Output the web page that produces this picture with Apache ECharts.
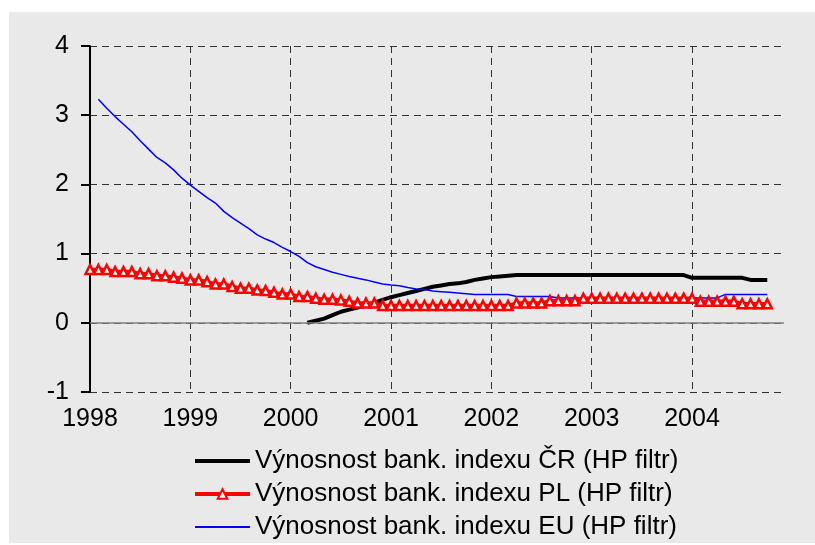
<!DOCTYPE html>
<html>
<head>
<meta charset="utf-8">
<script src="https://cdn.jsdelivr.net/npm/echarts@6/dist/echarts.min.js"></script>
<style>
html,body{margin:0;padding:0;background:#fff;}
#c{width:815px;height:545px;}
</style>
</head>
<body>
<div id="c"></div>
<script>
// Tick labels (years) and monthly categories
const years = ['1998','1999','2000','2001','2002','2003','2004'];
const months = ['01','02','03','04','05','06','07','08','09','10','11','12'];
const categories = [];
years.forEach(y => months.forEach(m => categories.push(y + '-' + m)));

const seriesNames = [
  'Výnosnost bank. indexu ČR (HP filtr)',
  'Výnosnost bank. indexu PL (HP filtr)',
  'Výnosnost bank. indexu EU (HP filtr)'
];

// Výnosnost bank. indexu ČR (HP filtr) — index 0 = 1998-01
const crValues = [
  null,null,null,null,null,null,null,null,null,null,null,null,
  null,null,null,null,null,null,null,null,null,null,null,null,
  null,null,0.00,0.03,0.06,0.11,0.16,0.19,0.22,0.25,0.29,0.33,
  0.37,0.40,0.43,0.46,0.49,0.52,0.54,0.56,0.57,0.59,0.62,0.64,
  0.66,0.67,0.68,0.69,0.69,0.69,0.69,0.69,0.69,0.69,0.69,0.69,
  0.69,0.69,0.69,0.69,0.69,0.69,0.69,0.69,0.69,0.69,0.69,0.69,
  0.65,0.65,0.65,0.65,0.65,0.65,0.65,0.62,0.62,0.62,null,null
];

// Výnosnost bank. indexu PL (HP filtr)
const plValues = [
  0.77,0.77,0.77,0.74,0.74,0.74,0.71,0.71,0.68,0.68,0.66,0.645,
  0.62,0.62,0.595,0.56,0.56,0.525,0.50,0.50,0.475,0.465,0.44,0.415,
  0.415,0.38,0.38,0.355,0.34,0.34,0.33,0.31,0.285,0.285,0.285,0.25,
  0.25,0.25,0.25,0.25,0.25,0.25,0.25,0.25,0.25,0.25,0.25,0.25,
  0.25,0.25,0.25,0.285,0.285,0.285,0.285,0.32,0.32,0.32,0.32,0.355,
  0.355,0.355,0.355,0.355,0.355,0.355,0.355,0.355,0.355,0.355,0.355,0.355,
  0.355,0.31,0.31,0.31,0.31,0.31,0.275,0.275,0.275,0.275,null,null
];

// Výnosnost bank. indexu EU (HP filtr)
const euValues = [
  null,3.23,3.10,2.98,2.87,2.76,2.63,2.51,2.39,2.31,2.21,2.09,
  1.99,1.90,1.81,1.73,1.61,1.52,1.44,1.36,1.27,1.21,1.16,1.09,
  1.03,0.96,0.87,0.81,0.77,0.73,0.70,0.67,0.645,0.62,0.59,0.56,
  0.545,0.535,0.51,0.49,0.48,0.46,0.45,0.44,0.43,0.42,0.41,0.41,
  0.41,0.41,0.41,0.38,0.38,0.38,0.38,0.38,0.36,0.36,0.36,0.36,
  0.36,0.36,0.36,0.36,0.36,0.36,0.36,0.36,0.36,0.36,0.36,0.36,
  0.36,0.36,0.36,0.36,0.41,0.41,0.41,0.41,0.41,0.41,null,null
];

const chart = echarts.init(document.getElementById('c'), null, {renderer: 'canvas'});
const FONT = 'Liberation Sans, Arial, sans-serif';
const yearTick = (i) => i % 12 === 0;

chart.setOption({
  animation: false,
  backgroundColor: '#ffffff',
  graphic: [{
    type: 'rect', z: -10, silent: true,
    shape: {x: 9, y: 12, width: 806, height: 531},
    style: {fill: '#e9e9e9'}
  }],
  grid: {left: 90, right: 31, top: 46, bottom: 153, containLabel: false},
  legend: {
    orient: 'vertical',
    left: 188, top: 443,
    itemWidth: 55, itemHeight: 12, itemGap: 7,
    textStyle: {fontFamily: FONT, fontSize: 26, color: '#000'},
    data: [
      {name: seriesNames[0], itemStyle: {opacity: 0}, lineStyle: {width: 4, color: '#000'}},
      {name: seriesNames[1], lineStyle: {width: 4, color: '#ff0000'}},
      {name: seriesNames[2], itemStyle: {opacity: 0}, lineStyle: {width: 2, color: '#0000ff'}}
    ]
  },
  xAxis: {
    type: 'category',
    data: categories,
    boundaryGap: false,
    axisLine: {show: false, onZero: false},
    axisTick: {show: false},
    axisLabel: {
      interval: yearTick,
      formatter: (v) => v.slice(0, 4),
      fontFamily: FONT, fontSize: 25, color: '#000', margin: 15
    },
    splitLine: {
      show: true, interval: yearTick,
      lineStyle: {color: '#333', width: 1, type: [7, 5]}
    }
  },
  yAxis: {
    type: 'value',
    min: -1, max: 4, interval: 1,
    axisLine: {show: true, lineStyle: {color: '#000', width: 2}},
    axisTick: {show: true, length: 9, lineStyle: {color: '#000', width: 2}},
    axisLabel: {fontFamily: FONT, fontSize: 25, color: '#000', margin: 21},
    splitLine: {show: true, lineStyle: {color: '#333', width: 1, type: [7, 5]}}
  },
  series: [
    {
      name: seriesNames[0], type: 'line', data: crValues,
      symbol: 'none', z: 3,
      lineStyle: {color: '#000', width: 4},
      itemStyle: {color: '#000'},
      markLine: {
        silent: true, symbol: 'none', label: {show: false},
        lineStyle: {color: '#808080', width: 1.5, type: 'solid'},
        data: [{yAxis: 0}]
      }
    },
    {
      name: seriesNames[1], type: 'line', data: plValues,
      symbol: 'triangle', symbolSize: 9, showAllSymbol: true, z: 5,
      lineStyle: {color: '#ff0000', width: 3.5},
      itemStyle: {color: '#ffffff', borderColor: '#ff0000', borderWidth: 2.5}
    },
    {
      name: seriesNames[2], type: 'line', data: euValues,
      symbol: 'none', z: 4,
      lineStyle: {color: '#0000ff', width: 1.5},
      itemStyle: {color: '#0000ff'}
    }
  ]
});
</script>
</body>
</html>
